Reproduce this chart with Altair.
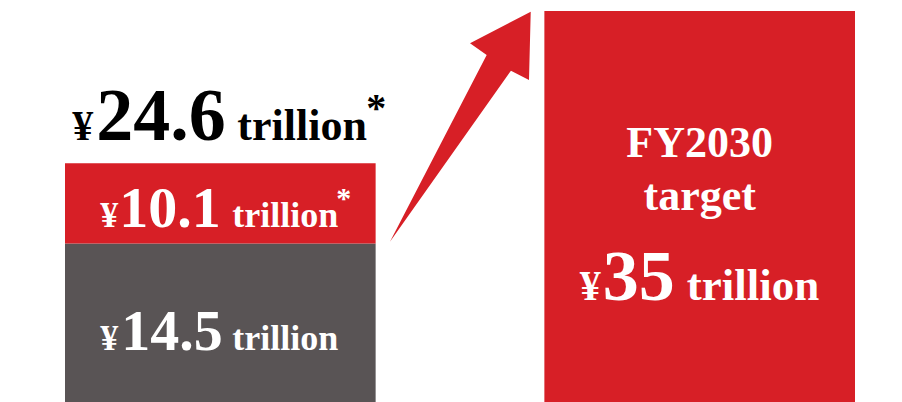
import altair as alt
import pandas as pd

# ---- data ----
bar_names = ["Current", "FY2030 target"]
current_parts = [14.5, 10.1]          # grey base, red top (trillion yen)
current_part_names = ["base", "top"]
current_total = 24.6
target_value = 35
currency = "¥"
unit = "trillion"

RED = "#D71F26"
GREY = "#595455"
FONT = "Liberation Serif"

base, top = current_parts
bars = pd.DataFrame({
    "bar": [bar_names[0], bar_names[0], bar_names[1]],
    "seg": ["base", "top", "target"],
    "start": [0, base, 0],
    "end": [base, round(base + top, 1), target_value],
})

y_scale = alt.Scale(domain=[0, base, round(base + top, 1), target_value],
                    range=[394, 235.5, 155.3, 3], nice=False, zero=False)
x_scale = alt.Scale(domain=bar_names, range=[57, 847], paddingInner=0.352, paddingOuter=0)

bar_layer = alt.Chart(bars).mark_bar().encode(
    x=alt.X("bar:N", scale=x_scale, axis=None),
    y=alt.Y("start:Q", scale=y_scale, axis=None),
    y2="end:Q",
    color=alt.Color("seg:N", scale=alt.Scale(domain=["base", "top", "target"],
                                              range=[GREY, RED, RED]), legend=None),
)

# arrow decoration as a custom symbol
arrow_path = ("M -0.609 0.997 L 0.232 -0.626 L 0.087 -0.728 L 0.615 -1.003 "
              "L 0.6 -0.409 L 0.443 -0.49 Z")
arrow = alt.Chart(pd.DataFrame({"a": [0]})).mark_point(
    shape=arrow_path, filled=True, opacity=1, strokeWidth=0, color=RED, size=52900
).encode(x=alt.value(452), y=alt.value(119))

# text pieces: (bar, anchor value, text, font size, dx, dy, colour, align)
pieces = [
    (bar_names[0], current_total, currency, 42, -148, -23.3, "black", "left"),
    (bar_names[0], current_total, f"{current_total}", 74, -124, -23.3, "black", "left"),
    (bar_names[0], current_total, unit, 44, 17, -23.3, "black", "left"),
    (bar_names[0], current_total, "*", 40, 146, -42.3, "black", "left"),

    (bar_names[0], current_total, currency, 36, -120, 63.7, "white", "left"),
    (bar_names[0], current_total, f"{top}", 58, -101, 63.7, "white", "left"),
    (bar_names[0], current_total, unit, 36, 12, 63.7, "white", "left"),
    (bar_names[0], current_total, "*", 30, 116, 44.4, "white", "left"),

    (bar_names[0], base, currency, 36, -120, 106.5, "white", "left"),
    (bar_names[0], base, f"{base}", 58, -99, 106.5, "white", "left"),
    (bar_names[0], base, unit, 36, 12, 106.5, "white", "left"),

    (bar_names[1], target_value, "FY2030", 44, 0, 146, "white", "center"),
    (bar_names[1], target_value, "target", 44, 0, 199, "white", "center"),
    (bar_names[1], target_value, currency, 42, -120, 289, "white", "left"),
    (bar_names[1], target_value, f"{target_value}", 72, -97, 289, "white", "left"),
    (bar_names[1], target_value, unit, 45, -13, 289, "white", "left"),
]

layers = [bar_layer, arrow]
for b, v, t, fs, dx, dy, col, al in pieces:
    df = pd.DataFrame({"bar": [b], "v": [v], "t": [t]})
    layers.append(
        alt.Chart(df).mark_text(
            font=FONT, fontWeight="bold", fontSize=fs, dx=dx, dy=dy,
            color=col, align=al, baseline="alphabetic"
        ).encode(
            x=alt.X("bar:N", scale=x_scale, axis=None),
            y=alt.Y("v:Q", scale=y_scale, axis=None),
            text="t:N",
        )
    )

chart = alt.layer(*layers).properties(
    width=886, height=394,
    autosize=alt.AutoSizeParams(type="none"),
    padding=0,
).configure_view(stroke=None)

chart.save("out.html", embed_options={"renderer": "svg", "actions": False})
